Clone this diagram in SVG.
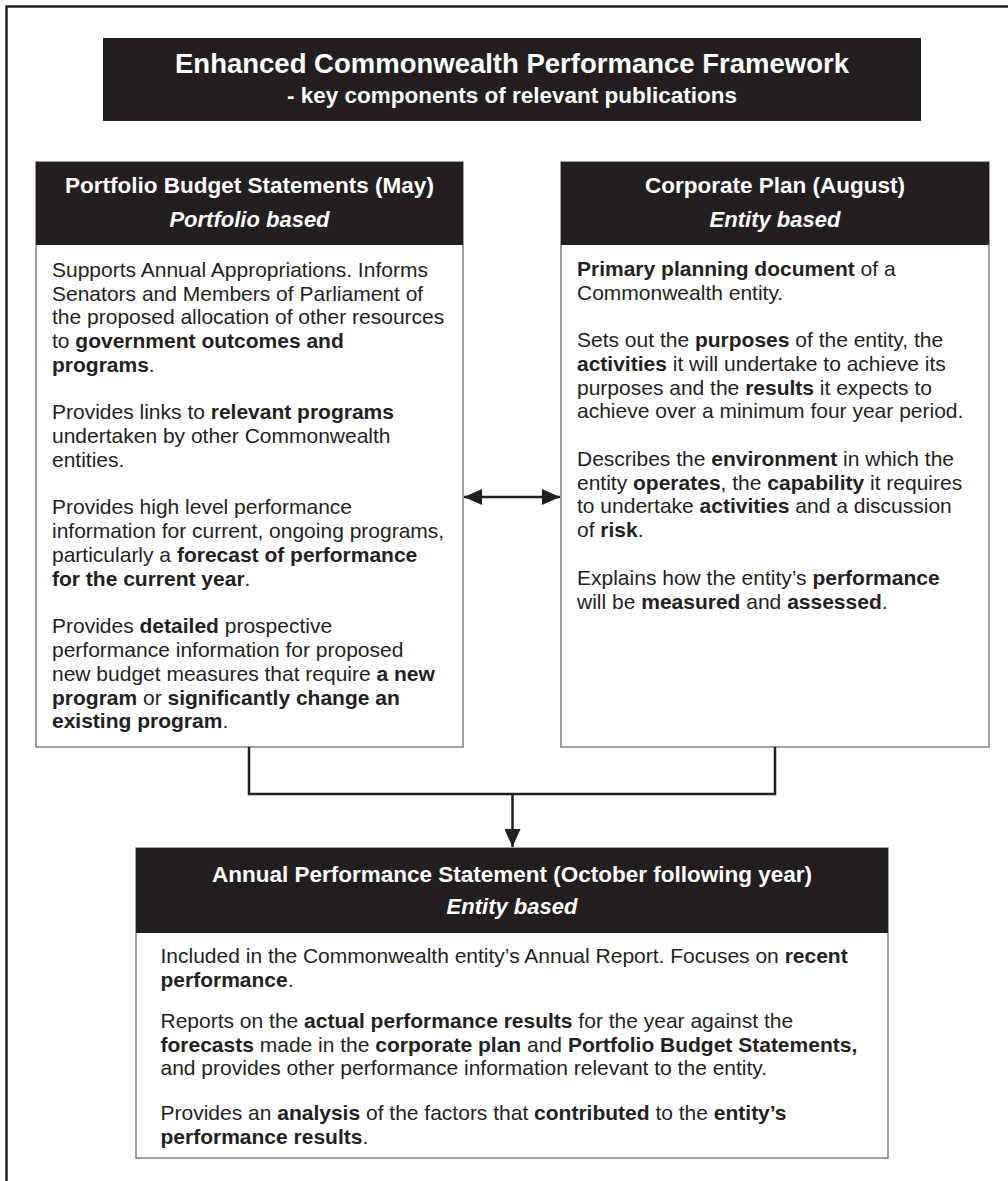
<svg xmlns="http://www.w3.org/2000/svg" width="1008" height="1181" viewBox="0 0 1008 1181">
<style>
text{font-family:"Liberation Sans",Arial,Helvetica,sans-serif;fill:#231f20}
.body{font-size:21px}
.b{font-weight:bold}
.hd{fill:#fff;font-weight:bold;text-anchor:middle}
.hdi{fill:#fff;font-weight:bold;font-style:italic;text-anchor:middle;font-size:22px}
.bar{fill:#231f20}
.box{fill:#fff;stroke:#808080;stroke-width:1.5}
.con{fill:none;stroke:#231f20;stroke-width:2.5}
</style>
<defs>
<marker id="ah" viewBox="0 0 18 16" refX="18" refY="8" markerWidth="18" markerHeight="16" markerUnits="userSpaceOnUse" orient="auto-start-reverse">
<path d="M0,0 L18,8 L0,16 Z" fill="#231f20"/>
</marker>
</defs>
<rect x="6.5" y="6.5" width="1020" height="1200" fill="#fff" stroke="#231f20" stroke-width="2.5"/>

<g id="title">
<rect class="bar" x="103" y="38" width="818" height="83"/>
<text class="hd" x="512" y="72.5" font-size="27.5">Enhanced Commonwealth Performance Framework</text>
<text class="hd" x="512" y="103" font-size="22.5">- key components of relevant publications</text>
</g>

<g id="pbs">
<rect class="box" x="36" y="162" width="427" height="585"/>
<rect class="bar" x="36" y="162" width="427" height="83"/>
<text class="hd" x="249.5" y="192.5" font-size="22.5">Portfolio Budget Statements (May)</text>
<text class="hdi" x="249.5" y="227">Portfolio based</text>
<g class="body">
<text x="52" y="276.7">Supports Annual Appropriations. Informs</text>
<text x="52" y="300.5">Senators and Members of Parliament of</text>
<text x="52" y="324.2">the proposed allocation of other resources</text>
<text x="52" y="348">to <tspan class="b">government outcomes and</tspan></text>
<text x="52" y="371.8"><tspan class="b">programs</tspan>.</text>
<text x="52" y="419.3">Provides links to <tspan class="b">relevant programs</tspan></text>
<text x="52" y="443.1">undertaken by other Commonwealth</text>
<text x="52" y="466.9">entities.</text>
<text x="52" y="514.4">Provides high level performance</text>
<text x="52" y="538.2">information for current, ongoing programs,</text>
<text x="52" y="561.9">particularly a <tspan class="b">forecast of performance</tspan></text>
<text x="52" y="585.7"><tspan class="b">for the current year</tspan>.</text>
<text x="52" y="633.2">Provides <tspan class="b">detailed</tspan> prospective</text>
<text x="52" y="657">performance information for proposed</text>
<text x="52" y="680.8">new budget measures that require <tspan class="b">a new</tspan></text>
<text x="52" y="704.5"><tspan class="b">program</tspan> or <tspan class="b">significantly change an</tspan></text>
<text x="52" y="728.3"><tspan class="b">existing program</tspan>.</text>
</g>
</g>

<g id="cp">
<rect class="box" x="561" y="162" width="428" height="585"/>
<rect class="bar" x="561" y="162" width="428" height="83"/>
<text class="hd" x="775" y="192.5" font-size="22.5">Corporate Plan (August)</text>
<text class="hdi" x="775" y="227">Entity based</text>
<g class="body">
<text x="577" y="275.7"><tspan class="b">Primary planning document</tspan> of a</text>
<text x="577" y="299.5">Commonwealth entity.</text>
<text x="577" y="347">Sets out the <tspan class="b">purposes</tspan> of the entity, the</text>
<text x="577" y="370.8"><tspan class="b">activities</tspan> it will undertake to achieve its</text>
<text x="577" y="394.6">purposes and the <tspan class="b">results</tspan> it expects to</text>
<text x="577" y="418.3">achieve over a minimum four year period.</text>
<text x="577" y="465.9">Describes the <tspan class="b">environment</tspan> in which the</text>
<text x="577" y="489.6">entity <tspan class="b">operates</tspan>, the <tspan class="b">capability</tspan> it requires</text>
<text x="577" y="513.4">to undertake <tspan class="b">activities</tspan> and a discussion</text>
<text x="577" y="537.2">of <tspan class="b">risk</tspan>.</text>
<text x="577" y="584.7">Explains how the entity’s <tspan class="b">performance</tspan></text>
<text x="577" y="608.5">will be <tspan class="b">measured</tspan> and <tspan class="b">assessed</tspan>.</text>
</g>
</g>

<g id="aps">
<rect class="box" x="136" y="848" width="752" height="310"/>
<rect class="bar" x="136" y="848" width="752" height="85"/>
<text class="hd" x="512" y="881.5" font-size="22.5">Annual Performance Statement (October following year)</text>
<text class="hdi" x="512" y="914">Entity based</text>
<g class="body">
<text x="160.5" y="962.7">Included in the Commonwealth entity’s Annual Report. Focuses on <tspan class="b">recent</tspan></text>
<text x="160.5" y="986.5"><tspan class="b">performance</tspan>.</text>
<text x="160.5" y="1028">Reports on the <tspan class="b">actual performance results</tspan> for the year against the</text>
<text x="160.5" y="1051.7"><tspan class="b">forecasts</tspan> made in the <tspan class="b">corporate plan</tspan> and <tspan class="b">Portfolio Budget Statements,</tspan></text>
<text x="160.5" y="1075.4">and provides other performance information relevant to the entity.</text>
<text x="160.5" y="1120">Provides an <tspan class="b">analysis</tspan> of the factors that <tspan class="b">contributed</tspan> to the <tspan class="b">entity’s</tspan></text>
<text x="160.5" y="1143.7"><tspan class="b">performance results</tspan>.</text>
</g>
</g>

<g id="connectors">
<line class="con" x1="464" y1="497" x2="560" y2="497" marker-start="url(#ah)" marker-end="url(#ah)"/>
<polyline class="con" points="249,747 249,794 775,794 775,747"/>
<line class="con" x1="512.5" y1="794" x2="512.5" y2="847" marker-end="url(#ah)"/>
</g>
</svg>
